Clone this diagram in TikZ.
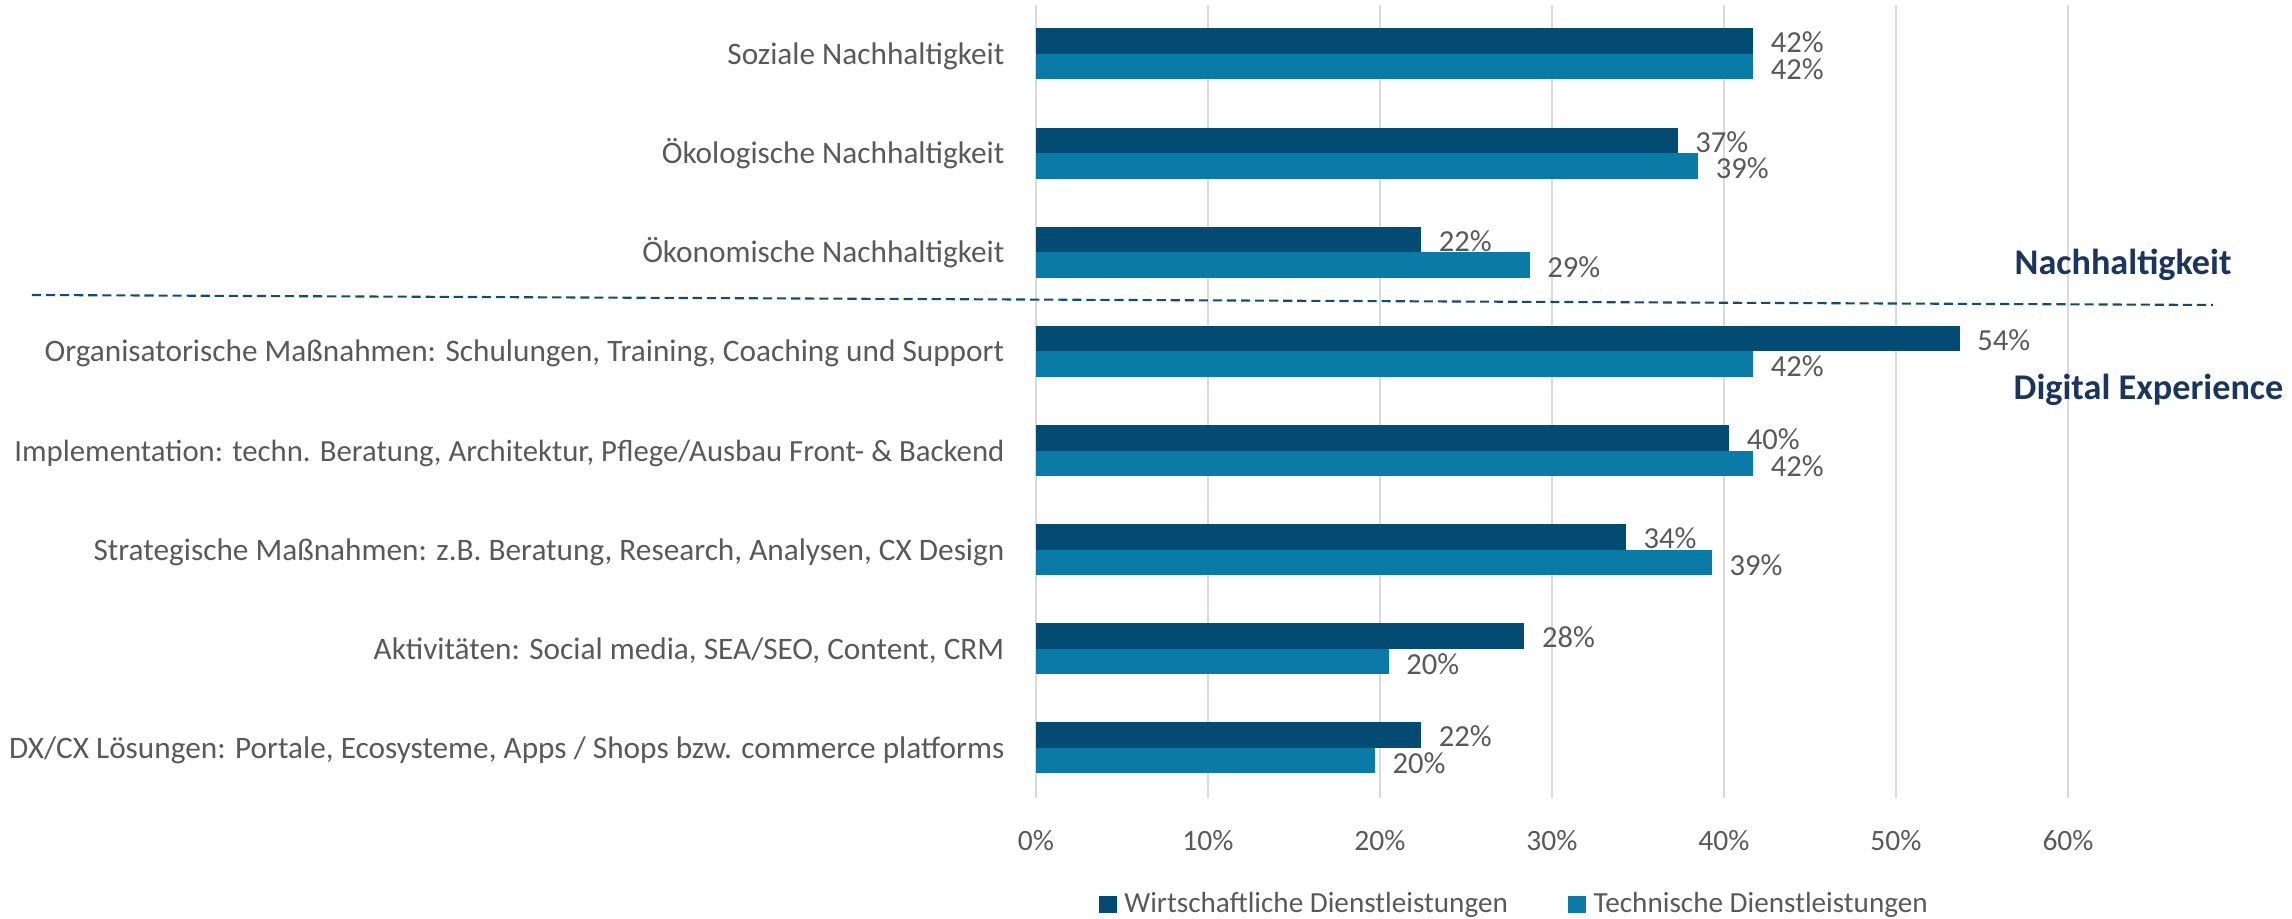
\documentclass[tikz,border=0pt]{standalone}
\usepackage{fontspec}
\setmainfont{Carlito}
\usepackage{tikz}

\definecolor{wdark}{HTML}{034B72}
\definecolor{tlight}{HTML}{0A7BA7}
\definecolor{txtgray}{HTML}{595959}
\definecolor{navy}{HTML}{1B365D}
\definecolor{gridgray}{HTML}{D9D9D9}
\definecolor{sepblue}{HTML}{0F4C78}

\tikzset{
  catlabel/.style={anchor=base east,inner sep=0pt,text=txtgray,font=\fontsize{8.9}{10}\selectfont},
  vallabel/.style={anchor=base west,inner sep=0pt,text=txtgray,font=\fontsize{8.7}{10}\selectfont},
  ticklabel/.style={anchor=base,inner sep=0pt,text=txtgray,font=\fontsize{8.4}{10}\selectfont},
  grouplabel/.style={anchor=base west,inner sep=0pt,text=navy,font=\fontsize{10.3}{12}\selectfont\bfseries},
  legbox/.style={inner sep=0pt,minimum width=0.18cm,minimum height=0.17cm},
  leglabel/.style={anchor=base west,inner sep=0pt,text=txtgray,font=\fontsize{8.3}{10}\selectfont}
}

\begin{document}
\begin{tikzpicture}
\useasboundingbox (-10.36,0) rectangle (12.56,9.19);

% Gridlines and axis labels
\foreach \x/\pct in {0/0, 1/10, 2/20, 3/30, 4/40, 5/50, 6/60} {
    \draw[gridgray,line width=0.6pt] (\x*1.72,1.21) -- (\x*1.72,9.14);
    \node[ticklabel] (tick\x) at (\x*1.72,0.68) {\pct\%};
}

% Category labels
\node[catlabel] (cat0) at (-0.31,8.545) {Soziale Nachhaltigkeit};
\node[catlabel] (cat1) at (-0.31,7.554) {Ökologische Nachhaltigkeit};
\node[catlabel] (cat2) at (-0.31,6.562) {Ökonomische Nachhaltigkeit};
\node[catlabel] (cat3) at (-0.31,5.571) {Organisatorische Maßnahmen: Schulungen, Training, Coaching und Support};
\node[catlabel,font=\fontsize{8.75}{10}\selectfont] (cat4) at (-0.31,4.579) {Implementation: techn. Beratung, Architektur, Pflege/Ausbau Front- \& Backend};
\node[catlabel] (cat5) at (-0.31,3.588) {Strategische Maßnahmen: z.B. Beratung, Research, Analysen, CX Design};
\node[catlabel] (cat6) at (-0.31,2.596) {Aktivitäten: Social media, SEA/SEO, Content, CRM};
\node[catlabel] (cat7) at (-0.31,1.605) {DX/CX Lösungen: Portale, Ecosysteme, Apps / Shops bzw. commerce platforms};

% Bars: index / Wirtschaft / Technik / printed values
\foreach \i/\a/\b/\la/\lb in {0/41.7/41.7/42/42, 1/37.3/38.5/37/39, 2/22.4/28.7/22/29,
    3/53.7/41.7/54/42, 4/40.3/41.7/40/42, 5/34.3/39.3/34/39, 6/28.4/20.5/28/20, 7/22.4/19.7/22/20} {
    \pgfmathsetmacro{\yc}{8.65-0.9914*\i}
    \fill[wdark] (0,\yc) rectangle (\a*0.172,\yc+0.255);
    \node[vallabel] (w\i) at (\a*0.172+0.17,\yc+0.01) {\la\%};
    \fill[tlight] (0,\yc-0.255) rectangle (\b*0.172,\yc);
    \node[vallabel] (t\i) at (\b*0.172+0.17,\yc-0.255) {\lb\%};
}

% Separator between the two groups
\coordinate (sepL) at (-10.04,6.24);
\coordinate (sepR) at (11.77,6.14);
\draw[sepblue,line width=0.6pt,dash pattern=on 2.6pt off 1.4pt] (sepL) -- (sepR);

\node[grouplabel] (nach) at (9.78,6.44) {Nachhaltigkeit};
\node[grouplabel] (dx) at (9.77,5.19) {Digital Experience};

% Legend
\node[legbox,fill=wdark] (boxw) at (0.72,0.145) {};
\node[leglabel] (legw) at (0.876,0.06) {Wirtschaftliche Dienstleistungen};
\node[legbox,fill=tlight] (boxt) at (5.41,0.145) {};
\node[leglabel] (legt) at (5.57,0.06) {Technische Dienstleistungen};
\end{tikzpicture}
\end{document}
